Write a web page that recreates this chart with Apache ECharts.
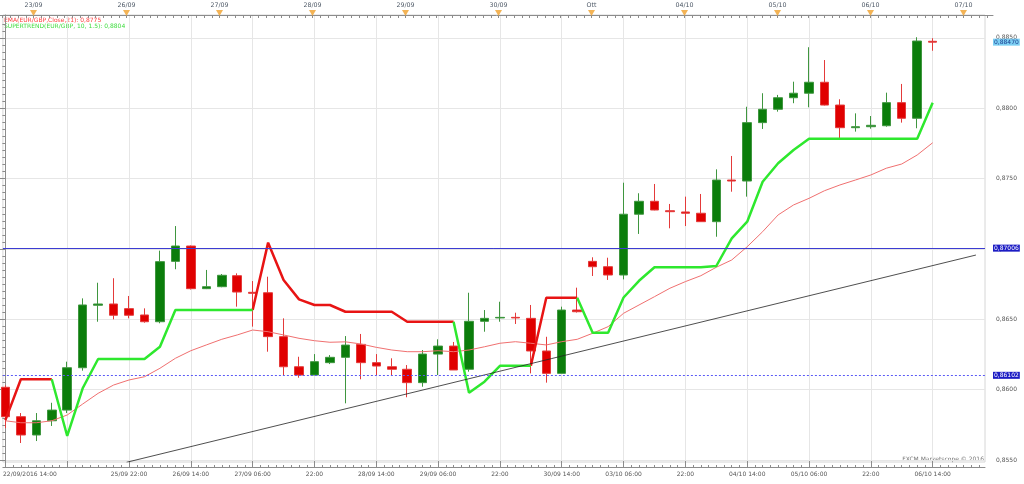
<!DOCTYPE html>
<html><head><meta charset="utf-8">
<script src="https://cdn.jsdelivr.net/npm/echarts@6/dist/echarts.min.js"></script>
<style>html,body{margin:0;padding:0;background:#fff}#c{width:1024px;height:484px}</style>
</head><body><div id="c"></div>
<script>
// ---- data (4-hour EUR/GBP candles, index 0 = 22/09/2016 14:00) ----
const opens = [0.86017,0.85808,0.85678,0.85779,0.85855,0.86156,0.86600,0.86609,0.86576,0.86531,
0.86483,0.86912,0.87021,0.86718,0.86732,0.86810,0.86692,0.86689,0.86377,0.86163,
0.86104,0.86192,0.86230,0.86322,0.86192,0.86163,0.86145,0.86050,0.86253,0.86310,
0.86145,0.86486,0.86510,0.86514,0.86507,0.86275,0.86116,0.86566,0.86912,0.86874,
0.86815,0.87247,0.87339,0.87272,0.87263,0.87254,0.87194,0.87490,0.87483,0.87898,
0.87993,0.88075,0.88107,0.88185,0.88023,0.87862,0.87869,0.87876,0.88040,0.87929,
0.88476];
const closes = [0.85808,0.85678,0.85779,0.85855,0.86156,0.86602,0.86609,0.86529,0.86529,0.86483,
0.86910,0.87021,0.86718,0.86732,0.86813,0.86694,0.86685,0.86377,0.86163,0.86104,
0.86199,0.86230,0.86317,0.86192,0.86168,0.86145,0.86050,0.86253,0.86310,0.86140,
0.86486,0.86507,0.86514,0.86510,0.86275,0.86116,0.86566,0.86554,0.86874,0.86815,
0.87247,0.87339,0.87277,0.87265,0.87254,0.87194,0.87490,0.87483,0.87898,0.87993,
0.88075,0.88107,0.88185,0.88023,0.87862,0.87869,0.87879,0.88040,0.87929,0.88478,
0.88470];
const lows = [0.85727,0.85621,0.85635,0.85742,0.85834,0.86135,0.86483,0.86500,0.86507,0.86476,
0.86472,0.86856,0.86712,0.86715,0.86728,0.86590,0.86448,0.86270,0.86104,0.86085,
0.86104,0.86182,0.85903,0.86074,0.86104,0.86097,0.85946,0.86021,0.86104,0.86140,
0.86128,0.86412,0.86483,0.86467,0.86116,0.86050,0.86116,0.86548,0.86808,0.86780,
0.86784,0.87107,0.87275,0.87147,0.87163,0.87192,0.87087,0.87407,0.87372,0.87853,
0.87976,0.88036,0.88007,0.88020,0.87787,0.87834,0.87855,0.87869,0.87898,0.87858,
0.88409];
const highs = [0.86030,0.85834,0.85834,0.85907,0.86199,0.86649,0.86760,0.86792,0.86666,0.86578,
0.86988,0.87163,0.87025,0.86851,0.86822,0.86827,0.86772,0.86803,0.86507,0.86234,
0.86253,0.86246,0.86381,0.86396,0.86253,0.86223,0.86175,0.86282,0.86358,0.86339,
0.86689,0.86566,0.86625,0.86547,0.86602,0.86376,0.86590,0.86725,0.86941,0.86938,
0.87471,0.87396,0.87462,0.87320,0.87372,0.87391,0.87566,0.87661,0.88011,0.88107,
0.88095,0.88189,0.88434,0.88343,0.88064,0.87964,0.87945,0.88111,0.88173,0.88505,
0.88498];
const ema21 = [0.85779,0.85765,0.85765,0.85779,0.85820,0.85898,0.85974,0.86033,0.86069,0.86092,
0.86152,0.86223,0.86277,0.86318,0.86358,0.86389,0.86424,0.86412,0.86389,0.86365,
0.86348,0.86337,0.86340,0.86325,0.86301,0.86282,0.86270,0.86270,0.86277,0.86270,
0.86282,0.86305,0.86330,0.86341,0.86330,0.86318,0.86341,0.86358,0.86401,0.86448,
0.86543,0.86602,0.86661,0.86721,0.86768,0.86810,0.86870,0.86922,0.87016,0.87123,
0.87242,0.87313,0.87360,0.87414,0.87455,0.87490,0.87526,0.87574,0.87604,0.87668,
0.87755];
const supertrend = [0.85784,0.86074,0.86074,0.86074,0.85671,0.86010,0.86218,0.86218,0.86218,0.86218,
0.86305,0.86566,0.86566,0.86566,0.86566,0.86566,0.86566,0.87045,0.86780,0.86642,
0.86602,0.86602,0.86554,0.86554,0.86554,0.86554,0.86483,0.86483,0.86483,0.86483,
0.85978,0.86057,0.86170,0.86170,0.86170,0.86654,0.86654,0.86654,0.86405,0.86405,
0.86655,0.86774,0.86870,0.86870,0.86870,0.86870,0.86879,0.87076,0.87194,0.87478,
0.87609,0.87704,0.87784,0.87784,0.87784,0.87784,0.87784,0.87784,0.87784,0.87784,
0.88040];
const stTrend = ['u','d','d','d','u','u','u','u','u','u','u','u','u','u','u','u','u',
'd','d','d','d','d','d','d','d','d','d','d','d','d',
'u','u','u','u','u','d','d','d',
'u','u','u','u','u','u','u','u','u','u','u','u','u','u','u','u','u','u','u','u','u','u','u'];
const trendLine = [[7.84, 0.85484], [62.8, 0.86957]];
const levelSolid = 0.87006;
const levelDotted = 0.86102;
const lastPrice = 0.88470;
const xTickIdx = [0,4,8,12,16,20,24,28,32,36,40,44,48,52,56,60];
const xLabelIdx = [0,8,12,16,20,24,28,32,36,40,44,48,52,56,60];
const xLabelText = ['22/09/2016 14:00','25/09 22:00','26/09 14:00','27/09 06:00','22:00','28/09 14:00','29/09 06:00','22:00','30/09 14:00','03/10 06:00','22:00','04/10 14:00','05/10 06:00','22:00','06/10 14:00'];
const dayIdx = [2,8,14,20,26,32,38,44,50,56,62];
const dayText = ['23/09','26/09','27/09','28/09','29/09','30/09','Ott','04/10','05/10','06/10','07/10'];
const yTicks = [0.855,0.860,0.865,0.870,0.875,0.880,0.885];
const emaLegend = 'EMA(EUR/GBP,Close,21): 0,8775';
const stLegend = 'SUPERTREND(EUR/GBP, 10, 1.5): 0,8804';
const watermark = 'FXCM Marketscope \u00A9 2016';

// ---- build ----
const n = opens.length;
const candleData = opens.map((o, i) => [i, o, closes[i], lows[i], highs[i]]);
const emaData = ema21.map((v, i) => [i, v]);
function stSeg(dir) {
  return supertrend.map((v, i) => {
    const inc = (i + 1 < n && stTrend[i + 1] === dir) || (i > 0 && stTrend[i] === dir);
    return inc ? [i, v] : [i, '-'];
  });
}
const minorX = []; for (let k = 0; k <= 127; k++) minorX.push(k / 2);
const minorY = []; for (let k = 0; k <= 62; k++) minorY.push(+(0.855 + k * 0.0005).toFixed(4));

const FONT = 'DejaVu Sans';
const X0 = -2.5 / 15.5, XMAX = 982.5 / 15.5, XMAX2 = 990.5 / 15.5;
const YMIN = 0.85486, YMAX = 0.88663;
const axisCol = '#8c8c8c';
const fmtY = v => v.toFixed(4).replace('.', ',');
const fmt5 = p => Number(p.value).toFixed(5).replace('.', ',');
const labMap = {}; xLabelIdx.forEach((k, j) => labMap[k] = xLabelText[j]);
const dayMap = {}; dayIdx.forEach((k, j) => dayMap[k] = dayText[j]);

function levelSeries(value, lineStyle, bg, fg) {
  return {type: 'line', xAxisIndex: 0, yAxisIndex: 0, data: [], silent: true, z: 4,
    markLine: {silent: true, symbol: ['none', 'none'], animation: false, precision: 5,
      lineStyle: lineStyle,
      label: {show: true, position: 'end', distance: 8, fontSize: 6, fontFamily: FONT, padding: [1, 1, 0, 1],
        formatter: fmt5, backgroundColor: bg, color: fg},
      emphasis: {disabled: true},
      data: [{yAxis: value}]}};
}

const chart = echarts.init(document.getElementById('c'), null, {renderer: 'canvas'});
chart.setOption({
  animation: false,
  backgroundColor: '#fff',
  grid: [
    {left: 0, right: 39, top: 15, bottom: 22, show: true, borderColor: '#d6d6d6', borderWidth: 1, backgroundColor: '#fff'},
    {left: 0, right: 31, top: 11, height: 4}
  ],
  xAxis: [
    {type: 'value', gridIndex: 0, position: 'bottom', min: X0, max: XMAX, offset: 5,
      axisLine: {show: true, lineStyle: {color: axisCol}},
      axisTick: {show: true, inside: true, length: 6, customValues: xTickIdx, lineStyle: {color: axisCol}},
      axisLabel: {customValues: xLabelIdx, fontSize: 6, fontFamily: FONT, color: '#555', margin: 4,
        formatter: v => { const k = Math.round(v); return k === 0 ? '{f|' + labMap[k] + '}' : labMap[k]; },
        rich: {f: {padding: [0, 0, 0, 49], fontSize: 6, fontFamily: FONT, color: '#555'}}},
      splitLine: {show: true, lineStyle: {color: '#e6e6e6', width: 1}}},
    {type: 'value', gridIndex: 0, position: 'bottom', min: X0, max: XMAX, offset: 5,
      axisLine: {show: false},
      axisTick: {show: true, inside: true, length: 2, customValues: minorX, lineStyle: {color: axisCol}},
      axisLabel: {show: false}, splitLine: {show: false}},
    {type: 'value', gridIndex: 1, position: 'top', min: X0, max: XMAX2,
      axisLine: {show: true, lineStyle: {color: axisCol}},
      axisTick: {show: true, inside: true, length: 3, customValues: minorX, lineStyle: {color: axisCol}},
      axisLabel: {customValues: dayIdx, fontSize: 6.3, fontFamily: FONT, color: '#4d5866', margin: 3,
        formatter: v => dayMap[Math.round(v)]},
      splitLine: {show: false}}
  ],
  yAxis: [
    {type: 'value', gridIndex: 0, position: 'right', min: YMIN, max: YMAX, offset: 8,
      axisLine: {show: true, lineStyle: {color: axisCol}},
      axisTick: {show: true, inside: true, length: 6, customValues: yTicks, lineStyle: {color: axisCol}},
      axisLabel: {customValues: yTicks, formatter: fmtY, fontSize: 6, fontFamily: FONT, color: '#555', margin: 3},
      splitLine: {show: true, lineStyle: {color: '#e6e6e6', width: 1}}},
    {type: 'value', gridIndex: 0, position: 'right', min: YMIN, max: YMAX, offset: 8,
      axisLine: {show: false},
      axisTick: {show: true, inside: true, length: 3, customValues: minorY, lineStyle: {color: axisCol}},
      axisLabel: {show: false}, splitLine: {show: false}},
    {type: 'value', gridIndex: 1, min: 0, max: 1, show: false}
  ],
  graphic: [
    {type: 'text', left: 4, top: 17, style: {text: emaLegend, fill: '#ff4040', fontSize: 6, fontFamily: FONT}},
    {type: 'text', left: 4, top: 23, style: {text: stLegend, fill: '#40dd40', fontSize: 6, fontFamily: FONT}},
    {type: 'text', right: 40, top: 456, style: {text: watermark, fill: '#777', fontSize: 6, fontFamily: FONT}}
  ],
  series: [
    {type: 'candlestick', xAxisIndex: 0, yAxisIndex: 0, data: candleData, barWidth: 9,
      itemStyle: {color: '#0b7d0b', color0: '#e00000', borderColor: '#3f963f', borderColor0: '#e43a3a', borderWidth: 1}},
    {type: 'line', xAxisIndex: 0, yAxisIndex: 0, data: emaData, showSymbol: false, silent: true,
      lineStyle: {color: '#f07070', width: 1}},
    {type: 'line', xAxisIndex: 0, yAxisIndex: 0, data: stSeg('d'), showSymbol: false, silent: true, connectNulls: false,
      lineStyle: {color: '#e81414', width: 2.5}},
    {type: 'line', xAxisIndex: 0, yAxisIndex: 0, data: stSeg('u'), showSymbol: false, silent: true, connectNulls: false,
      lineStyle: {color: '#2ee82e', width: 2.5}},
    {type: 'line', xAxisIndex: 0, yAxisIndex: 0, data: trendLine, showSymbol: false, silent: true,
      lineStyle: {color: '#222', width: 0.8}},
    levelSeries(levelSolid, {color: '#3c3cd2', width: 1, type: 'solid'}, '#1c1cc4', '#fff'),
    levelSeries(levelDotted, {color: '#5a5af5', width: 1, type: [2, 2]}, '#1c1cc4', '#fff'),
    levelSeries(lastPrice, {color: 'rgba(0,0,0,0)', width: 1, type: 'solid'}, '#7ccff3', '#1d3f8f'),
    {type: 'scatter', xAxisIndex: 2, yAxisIndex: 2, data: dayIdx.map(k => [k, 0.5]), symbol: 'triangle',
      symbolRotate: 180, symbolSize: [7, 6], itemStyle: {color: '#f0a02a'}, silent: true, clip: false}
  ]
});
</script></body></html>
